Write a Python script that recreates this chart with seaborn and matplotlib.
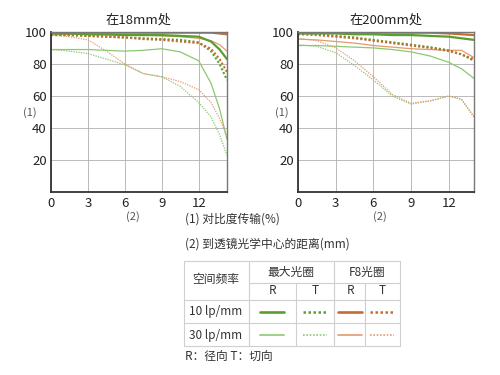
import pandas as pd
import seaborn as sns
import matplotlib.pyplot as plt
from matplotlib.lines import Line2D

# MTF 数据 (18mm / 200mm)
x_18 = [0, 1.5, 3, 4.5, 6, 7.5, 9, 10.5, 12, 13, 13.7, 14.3]
x_200 = [0, 1.5, 3, 4.5, 6, 7.5, 9, 10.5, 12, 13, 14]

w18_g10r = [99, 99, 98.5, 98.5, 98, 98, 98, 97.5, 97, 94, 89, 83]
w18_g10t = [98, 98, 97.5, 97, 96.5, 96, 95.5, 95, 93.5, 88, 80, 70]
w18_o10r = [99.5, 99.5, 99.5, 99.5, 99.5, 99.5, 99.5, 99.5, 99.5, 99.5, 99, 98.5]
w18_o10t = [98.5, 98, 97.5, 97, 96.5, 95.5, 95, 94, 93, 89.5, 83, 75]
w18_g30r = [89, 89, 89, 88.5, 88, 88.5, 89.5, 87.5, 82, 68, 52, 33]
w18_g30t = [89, 88, 86.5, 83, 79.5, 74, 72, 66, 56, 47, 36, 23]
w18_o30r = [98.5, 98.5, 98.5, 98, 98, 98, 97.5, 97, 96, 94.5, 92, 88]
w18_o30t = [98, 97, 95, 88, 80, 74, 72, 69, 64, 56, 46, 35]

t200_g10r = [99, 99, 99, 98.5, 98.5, 98, 98, 97.5, 97, 96, 95]
t200_g10t = [99, 98.5, 97.5, 96.5, 95, 93.5, 92, 90.5, 88.5, 86, 82]
t200_o10r = [99.5, 99.5, 99.5, 99.5, 99.5, 99.5, 99.5, 99.5, 99, 98.5, 98]
t200_o10t = [98.5, 98, 97, 96, 94.5, 93, 91.5, 90, 88, 86, 83]
t200_g30r = [91.5, 91.5, 91, 90.5, 90, 89, 87.5, 85, 81, 77, 71]
t200_g30t = [92, 91, 87, 79, 70, 60, 55, 57, 60, 58, 47]
t200_o30r = [95.5, 95, 94, 93, 91.5, 90.5, 89.5, 89, 88.5, 88.5, 84]
t200_o30t = [96, 94.5, 90, 82, 72, 61, 55.5, 57, 60, 58, 47]

titles = ["在18mm处", "在200mm处"]
xticks = [0, 3, 6, 9, 12]
yticks = [20, 40, 60, 80, 100]

GREEN = "#5a9e2e"
GREEN_L = "#8cc870"
ORANGE = "#c86a32"
ORANGE_L = "#e39a70"

# (颜色, 线宽, 线型)
styles = {
    "g10r": (GREEN, 1.6, "-"),
    "g10t": (GREEN, 1.5, (0, (1, 1))),
    "o10r": (ORANGE, 1.6, "-"),
    "o10t": (ORANGE, 1.5, (0, (1, 1))),
    "g30r": (GREEN_L, 0.9, "-"),
    "g30t": (GREEN_L, 0.9, (0, (1, 1))),
    "o30r": (ORANGE_L, 0.9, "-"),
    "o30t": (ORANGE_L, 0.9, (0, (1, 1))),
}

def make_df(x, curves):
    rows = []
    for key, vals in curves.items():
        for xi, yi in zip(x, vals):
            rows.append({"dist": xi, "mtf": yi, "curve": key})
    return pd.DataFrame(rows)

df18 = make_df(x_18, {"g30r": w18_g30r, "g30t": w18_g30t, "o30r": w18_o30r, "o30t": w18_o30t,
                      "g10t": w18_g10t, "o10t": w18_o10t, "g10r": w18_g10r, "o10r": w18_o10r})
df200 = make_df(x_200, {"g30r": t200_g30r, "g30t": t200_g30t, "o30r": t200_o30r, "o30t": t200_o30t,
                        "g10t": t200_g10t, "o10t": t200_o10t, "g10r": t200_g10r, "o10r": t200_o10r})

sns.set_style("white")
plt.rcParams['font.family'] = ['Noto Sans CJK SC', 'DejaVu Sans']

fig = plt.figure(figsize=(5, 3.75), dpi=100)
ax1 = fig.add_axes([0.102, 0.487, 0.352, 0.428])
ax2 = fig.add_axes([0.596, 0.487, 0.352, 0.428])

for ax, df, title, xmax in [(ax1, df18, titles[0], 14.3), (ax2, df200, titles[1], 14.0)]:
    for key, sub in df.groupby("curve", sort=False):
        color, lw, ls = styles[key]
        sns.lineplot(data=sub, x="dist", y="mtf", ax=ax, color=color, linewidth=lw,
                     linestyle=ls, legend=False)
    ax.set_xlim(0, xmax)
    ax.set_ylim(0, 100)
    ax.set_xticks(xticks)
    ax.set_yticks(yticks)
    ax.grid(True, color="#b0b0b0", linewidth=0.6)
    ax.set_xlabel("")
    ax.set_ylabel("")
    ax.tick_params(length=0, labelsize=9.5, pad=3, colors="#222")
    for s in ["left", "bottom"]:
        ax.spines[s].set_color("#333")
        ax.spines[s].set_linewidth(1.3)
    for s in ["top", "right"]:
        ax.spines[s].set_color("#777")
        ax.spines[s].set_linewidth(1.0)
    ax.set_title(title, fontsize=9.5, color="#222", pad=6)

fig.text(0.06, 0.70, "(1)", fontsize=8, color="#555", ha="center", va="center")
fig.text(0.564, 0.70, "(1)", fontsize=8, color="#555", ha="center", va="center")
fig.text(0.266, 0.423, "(2)", fontsize=8, color="#555", ha="center", va="center")
fig.text(0.76, 0.423, "(2)", fontsize=8, color="#555", ha="center", va="center")

fig.text(0.37, 0.416, "(1) 对比度传输(%)", fontsize=8.5, color="#333", va="center")
fig.text(0.37, 0.350, "(2) 到透镜光学中心的距离(mm)", fontsize=8.5, color="#333", va="center")
fig.text(0.37, 0.048, "R：径向 T：切向", fontsize=8.5, color="#333", va="center")

# 图例表格
W, H = 500.0, 375.0
def fx(px):
    return px / W
def fy(py):
    return 1 - py / H

grid_c = "#cfcfcf"
tl, tr, tt, tb = 184, 400, 261, 346
for px1, py1, px2, py2 in [
    (tl, tt, tr, tt), (tl, tb, tr, tb), (tl, tt, tl, tb), (tr, tt, tr, tb),
    (249, tt, 249, tb), (334, tt, 334, tb), (249, 283, tr, 283),
    (tl, 300, tr, 300), (tl, 323, tr, 323), (296, 283, 296, tb), (365, 283, 365, tb),
]:
    fig.add_artist(Line2D([fx(px1), fx(px2)], [fy(py1), fy(py2)], color=grid_c, linewidth=0.8))

txt = dict(fontsize=8.5, color="#333", ha="center", va="center")
fig.text(fx(216), fy(280), "空间频率", **txt)
fig.text(fx(291), fy(272), "最大光圈", **txt)
fig.text(fx(367), fy(272), "F8光圈", **txt)
for cx, lab in [(272, "R"), (315, "T"), (350, "R"), (382, "T")]:
    fig.text(fx(cx), fy(291), lab, **txt)
fig.text(fx(216), fy(312), "10 lp/mm", **txt)
fig.text(fx(216), fy(335), "30 lp/mm", **txt)

for row_y, suffix in [(312, "10"), (335, "30")]:
    for cx, col in [(272, "g"), (315, "g"), (350, "o"), (382, "o")]:
        key = col + suffix + ("r" if cx in (272, 350) else "t")
        color, lw, ls = styles[key]
        fig.add_artist(Line2D([fx(cx - 12), fx(cx + 12)], [fy(row_y), fy(row_y)],
                              color=color, linewidth=lw + 0.3, linestyle=ls))

fig.savefig("out.png", dpi=100)
